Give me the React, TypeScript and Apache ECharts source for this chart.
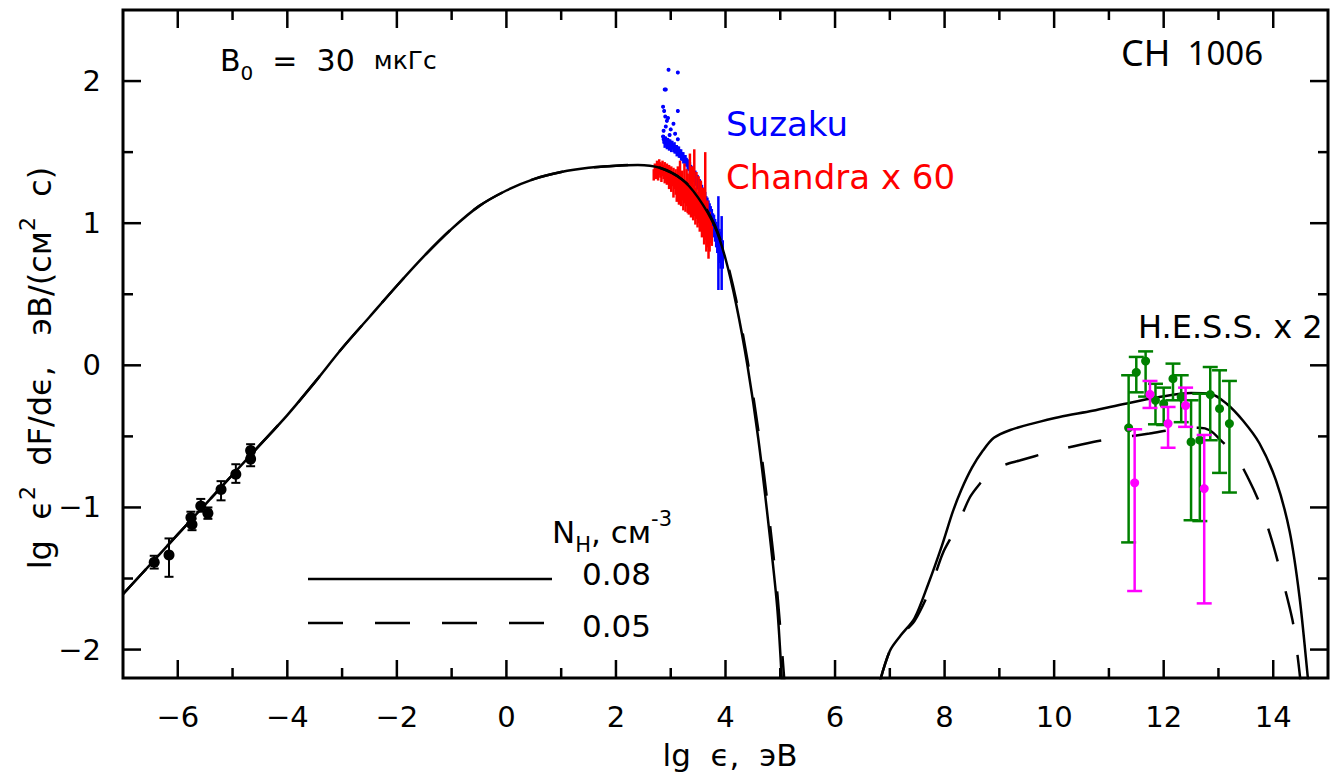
import React, { useEffect, useRef } from "react";
import * as echarts from "echarts";

// ---------- axis extents & ticks ----------
const X_MIN = -7;
const X_MAX = 15;
const Y_MIN = -2.2;
const Y_MAX = 2.5;
const xMajorTicks = [-6, -4, -2, 0, 2, 4, 6, 8, 10, 12, 14];
const xMinorTicks = [-5, -3, -1, 1, 3, 5, 7, 9, 11, 13];
const yMajorTicks = [-2, -1, 0, 1, 2];
const yMinorTicks = [-1.5, -0.5, 0.5, 1.5];

// ---------- model curves ----------
// synchrotron, N_H = 0.08 (solid)
const synchSolidX = [-7, -6.5, -6, -5.5, -5, -4.5, -4, -3.5, -3, -2.5, -2, -1.5, -1, -0.5, 0, 0.5, 1, 1.5, 2, 2.4, 2.8, 3.2, 3.5, 3.8, 4.0, 4.2, 4.4, 4.6, 4.8, 4.95, 5.06];
const synchSolidY = [-1.61, -1.4, -1.19, -0.98, -0.77, -0.56, -0.35, -0.12, 0.12, 0.34, 0.56, 0.77, 0.96, 1.12, 1.23, 1.31, 1.36, 1.39, 1.405, 1.41, 1.39, 1.31, 1.18, 0.98, 0.75, 0.42, 0.0, -0.52, -1.17, -1.73, -2.45];
// synchrotron, N_H = 0.05 (dashed)
const synchDashX = [-7, -6.5, -6, -5.5, -5, -4.5, -4, -3.5, -3, -2.5, -2, -1.5, -1, -0.5, 0, 0.5, 1, 1.5, 2, 2.4, 2.8, 3.2, 3.5, 3.8, 4.0, 4.2, 4.4, 4.6, 4.8, 4.95, 5.12];
const synchDashY = [-1.61, -1.4, -1.19, -0.98, -0.77, -0.56, -0.35, -0.12, 0.12, 0.34, 0.56, 0.77, 0.96, 1.12, 1.23, 1.31, 1.36, 1.39, 1.405, 1.41, 1.39, 1.31, 1.19, 0.99, 0.77, 0.45, 0.04, -0.46, -1.08, -1.62, -2.45];
// inverse Compton, N_H = 0.08 (solid)
const icSolidX = [6.8, 7.0, 7.2, 7.45, 7.7, 7.95, 8.15, 8.3, 8.5, 8.7, 8.9, 9.2, 9.6, 10.1, 10.7, 11.3, 11.9, 12.5, 12.85, 13.15, 13.45, 13.75, 14.05, 14.3, 14.48, 14.63, 14.68];
const icSolidY = [-2.25, -2.01, -1.9, -1.78, -1.54, -1.27, -1.03, -0.88, -0.72, -0.6, -0.51, -0.455, -0.41, -0.363, -0.32, -0.27, -0.225, -0.195, -0.2, -0.27, -0.39, -0.55, -0.81, -1.17, -1.63, -2.19, -2.4];
// inverse Compton, N_H = 0.05 (dashed)
const icDashX = [6.8, 7.0, 7.2, 7.45, 7.73, 7.97, 8.22, 8.46, 8.65, 8.82, 9.1, 9.37, 9.92, 10.71, 11.2, 11.74, 12.29, 12.65, 12.84, 13.05, 13.32, 13.55, 13.75, 13.95, 14.11, 14.35, 14.44, 14.52];
const icDashY = [-2.25, -2.01, -1.9, -1.8, -1.58, -1.32, -1.14, -0.93, -0.83, -0.76, -0.7, -0.67, -0.61, -0.54, -0.51, -0.48, -0.445, -0.44, -0.457, -0.53, -0.64, -0.8, -0.97, -1.2, -1.42, -1.79, -2.03, -2.3];

// ---------- radio data (black) ----------
const radioX = [-6.43, -6.16, -5.76, -5.74, -5.58, -5.45, -5.21, -4.94, -4.67, -4.67];
const radioY = [-1.385, -1.335, -1.07, -1.12, -0.99, -1.04, -0.873, -0.766, -0.6, -0.66];
const radioLo = [-1.43, -1.488, -1.11, -1.16, -1.03, -1.08, -0.95, -0.827, -0.64, -0.71];
const radioHi = [-1.34, -1.218, -1.03, -1.08, -0.94, -1.0, -0.815, -0.696, -0.555, -0.62];

// ---------- Chandra x 60 (red) ----------
const chandraX = [2.69, 2.71, 2.73, 2.75, 2.77, 2.79, 2.81, 2.83, 2.85, 2.87, 2.89, 2.91, 2.93, 2.95, 2.97, 2.99, 3.01, 3.03, 3.05, 3.07, 3.09, 3.11, 3.13, 3.15, 3.17, 3.19, 3.21, 3.23, 3.25, 3.27, 3.29, 3.31, 3.33, 3.35, 3.37, 3.39, 3.41, 3.43, 3.45, 3.47, 3.49, 3.51, 3.53, 3.55, 3.57, 3.59, 3.61, 3.63, 3.65, 3.67, 3.69, 3.71, 3.73, 3.75];
const chandraLo = [1.3, 1.32, 1.31, 1.33, 1.3, 1.34, 1.32, 1.29, 1.33, 1.31, 1.28, 1.3, 1.27, 1.29, 1.24, 1.28, 1.22, 1.26, 1.18, 1.24, 1.2, 1.15, 1.21, 1.13, 1.18, 1.12, 1.16, 1.09, 1.14, 1.08, 1.12, 1.07, 1.06, 1.1, 1.04, 1.08, 1.02, 1.05, 0.99, 1.03, 0.97, 1.0, 0.94, 0.98, 0.9, 0.93, 0.85, 0.88, 0.8, 0.83, 0.75, 0.8, 0.86, 0.84];
const chandraHi = [1.38, 1.42, 1.4, 1.44, 1.41, 1.45, 1.43, 1.42, 1.44, 1.41, 1.43, 1.4, 1.42, 1.39, 1.41, 1.38, 1.4, 1.37, 1.39, 1.36, 1.38, 1.35, 1.4, 1.34, 1.44, 1.33, 1.37, 1.31, 1.42, 1.3, 1.38, 1.35, 1.28, 1.49, 1.3, 1.4, 1.27, 1.52, 1.25, 1.36, 1.22, 1.33, 1.2, 1.3, 1.17, 1.25, 1.14, 1.5, 1.1, 1.16, 1.05, 1.08, 1.02, 0.98];

// ---------- Suzaku (blue) ----------
const suzakuX = [2.96, 3.13, 2.89, 2.91, 2.86, 2.88, 3.13, 2.9, 2.93, 2.95, 3.05, 2.87, 2.91, 3.0, 3.13, 2.98, 3.08, 2.86,
  2.87, 2.89, 2.91, 2.93, 2.95, 2.97, 2.99, 3.01, 3.03, 3.05, 3.07, 3.09, 3.11, 3.13, 3.15, 3.17, 3.19, 3.21, 3.23, 3.25, 3.27, 3.29, 3.31, 3.33, 3.35, 3.37, 3.39, 3.41, 3.43, 3.45, 3.47, 3.49, 3.51, 3.53, 3.55, 3.57, 3.59, 3.61, 3.63, 3.65, 3.67, 3.69, 3.71, 3.73, 3.75, 3.77, 3.79, 3.81, 3.83, 3.85, 3.87, 3.89, 3.91, 3.93, 3.95];
const suzakuY = [2.08, 2.06, 1.94, 1.94, 1.82, 1.79, 1.79, 1.75, 1.72, 1.74, 1.7, 1.65, 1.68, 1.66, 1.59, 1.62, 1.63, 1.61,
  1.59, 1.57, 1.58, 1.56, 1.57, 1.55, 1.56, 1.54, 1.55, 1.53, 1.53, 1.52, 1.51, 1.51, 1.5, 1.49, 1.48, 1.47, 1.46, 1.45, 1.44, 1.43, 1.41, 1.4, 1.39, 1.37, 1.36, 1.35, 1.33, 1.32, 1.3, 1.29, 1.27, 1.26, 1.24, 1.22, 1.2, 1.18, 1.16, 1.14, 1.12, 1.1, 1.08, 1.05, 1.03, 1.0, 0.98, 0.95, 0.92, 0.89, 0.86, 0.84, 0.81, 0.79, 0.78];
const suzakuErr = [0.01, 0.01, 0.01, 0.01, 0.01, 0.01, 0.01, 0.01, 0.01, 0.01, 0.01, 0.01, 0.01, 0.01, 0.01, 0.01, 0.01, 0.01,
  0.03, 0.04, 0.03, 0.04, 0.03, 0.04, 0.03, 0.04, 0.03, 0.03, 0.04, 0.03, 0.04, 0.03, 0.04, 0.03, 0.04, 0.03, 0.04, 0.03, 0.04, 0.03, 0.04, 0.03, 0.04, 0.04, 0.04, 0.04, 0.04, 0.05, 0.04, 0.05, 0.04, 0.05, 0.05, 0.05, 0.05, 0.05, 0.06, 0.05, 0.06, 0.06, 0.06, 0.07, 0.07, 0.07, 0.08, 0.08, 0.09, 0.1, 0.33, 0.12, 0.13, 0.26, 0.1];

// ---------- H.E.S.S. x 2 ----------
const hessGreenX = [11.36, 11.5, 11.67, 11.85, 12.0, 12.17, 12.32, 12.5, 12.66, 12.85, 13.02, 13.2];
const hessGreenY = [-0.44, -0.049, 0.03, -0.246, -0.27, -0.094, -0.223, -0.539, -0.527, -0.206, -0.305, -0.41];
const hessGreenLo = [-1.246, -0.19, -0.22, -0.415, -0.42, -0.246, -0.4, -1.09, -1.096, -0.527, -0.757, -0.895];
const hessGreenHi = [-0.07, 0.059, 0.098, -0.13, -0.157, 0.012, -0.07, -0.246, -0.2, -0.012, -0.035, -0.11];
const hessMagX = [11.47, 11.75, 12.08, 12.4, 12.74];
const hessMagY = [-0.827, -0.204, -0.41, -0.283, -0.867];
const hessMagLo = [-1.588, -0.3, -0.58, -0.433, -1.675];
const hessMagHi = [-0.45, -0.11, -0.293, -0.157, -0.49];

const FONT = "DejaVu Sans";

const zip = (...arrs: number[][]) => arrs[0].map((_, i) => arrs.map((a) => a[i]));

function makeErrRender(color: string, cap: number, r: number, lw: number) {
  return (params: any, api: any) => {
    const x = api.value(0);
    const y = api.value(1);
    const lo = api.value(2);
    const hi = api.value(3);
    const pc = api.coord([x, y]);
    const pl = api.coord([x, lo]);
    const ph = api.coord([x, hi]);
    const children: any[] = [
      { type: "line", shape: { x1: pl[0], y1: pl[1], x2: ph[0], y2: ph[1] }, style: { stroke: color, lineWidth: lw } },
    ];
    if (cap > 0) {
      children.push({ type: "line", shape: { x1: pl[0] - cap, y1: pl[1], x2: pl[0] + cap, y2: pl[1] }, style: { stroke: color, lineWidth: lw } });
      children.push({ type: "line", shape: { x1: ph[0] - cap, y1: ph[1], x2: ph[0] + cap, y2: ph[1] }, style: { stroke: color, lineWidth: lw } });
    }
    if (r > 0) {
      children.push({ type: "circle", shape: { cx: pc[0], cy: pc[1], r }, style: { fill: color } });
    }
    return { type: "group", children };
  };
}

function tickRender(params: any, api: any) {
  const v = api.value(0);
  const side = api.value(1);
  const len = api.value(2);
  let p: number[];
  let q: number[];
  if (side === 0) {
    p = api.coord([v, Y_MIN]);
    q = [p[0], p[1] - len];
  } else if (side === 1) {
    p = api.coord([v, Y_MAX]);
    q = [p[0], p[1] + len];
  } else if (side === 2) {
    p = api.coord([X_MIN, v]);
    q = [p[0] + len, p[1]];
  } else {
    p = api.coord([X_MAX, v]);
    q = [p[0] - len, p[1]];
  }
  return { type: "line", shape: { x1: p[0], y1: p[1], x2: q[0], y2: q[1] }, style: { stroke: "#000", lineWidth: 2.5 } };
}

const richStyles = (size: number, smScale = 0.85) => ({
  a: { fontSize: size, fontFamily: FONT, lineHeight: Math.round(size * 1.5), fill: "#000" },
  sup: { fontSize: Math.round(size * 0.68), fontFamily: FONT, lineHeight: Math.round(size * 0.68), verticalAlign: "top", fill: "#000" },
  sub: { fontSize: Math.round(size * 0.68), fontFamily: FONT, lineHeight: Math.round(size * 0.68), verticalAlign: "bottom", fill: "#000" },
  sm: { fontSize: Math.round(size * smScale), fontFamily: FONT, lineHeight: Math.round(size * 1.5), fill: "#000" },
});

const fmtNum = (v: number) => (v < 0 ? "\u2212" + String(Math.abs(v)) : String(v));

export default function App() {
  const ref = useRef<HTMLDivElement>(null);
  useEffect(() => {
    if (!ref.current) return;
    const chart = echarts.init(ref.current, undefined, { renderer: "svg" });

    const tickData: number[][] = [];
    xMajorTicks.forEach((v) => { tickData.push([v, 0, 18]); tickData.push([v, 1, 18]); });
    xMinorTicks.forEach((v) => { tickData.push([v, 0, 10]); tickData.push([v, 1, 10]); });
    yMajorTicks.forEach((v) => { tickData.push([v, 2, 18]); tickData.push([v, 3, 18]); });
    yMinorTicks.forEach((v) => { tickData.push([v, 2, 10]); tickData.push([v, 3, 10]); });

    const dashed = [34, 31];
    const SMOOTH = 0.3;

    const option: any = {
      animation: false,
      backgroundColor: "#fff",
      grid: { left: 123, right: 15, top: 10, bottom: 100, show: true, borderColor: "#000", borderWidth: 3, backgroundColor: "transparent" },
      xAxis: {
        type: "value", min: X_MIN, max: X_MAX, interval: 1,
        axisLine: { show: false }, axisTick: { show: false }, splitLine: { show: false },
        axisLabel: {
          fontFamily: FONT, fontSize: 29, color: "#000", margin: 24,
          formatter: (v: number) => (Math.abs(v % 2) < 1e-9 ? fmtNum(v) : ""),
        },
      },
      yAxis: {
        type: "value", min: Y_MIN, max: Y_MAX, interval: 0.1,
        axisLine: { show: false }, axisTick: { show: false }, splitLine: { show: false },
        axisLabel: {
          fontFamily: FONT, fontSize: 29, color: "#000", margin: 22,
          formatter: (v: number) => (Math.abs(v - Math.round(v)) < 1e-6 ? fmtNum(Math.round(v)) : ""),
        },
      },
      series: [
        { type: "custom", name: "ticks", renderItem: tickRender, data: tickData, silent: true, z: 1 },
        { type: "custom", name: "Suzaku", renderItem: makeErrRender("#0000ff", 0, 2, 2.5), data: zip(suzakuX, suzakuY, suzakuY.map((y, i) => y - suzakuErr[i]), suzakuY.map((y, i) => y + suzakuErr[i])), z: 2 },
        { type: "custom", name: "Chandra x 60", renderItem: makeErrRender("#ff0000", 0, 0, 2.5), data: zip(chandraX, chandraX.map((_, i) => (chandraLo[i] + chandraHi[i]) / 2), chandraLo, chandraHi), z: 3 },
        { type: "line", name: "synch 0.05", data: zip(synchDashX, synchDashY), showSymbol: false, smooth: SMOOTH, lineStyle: { color: "#000", width: 2.5, type: dashed }, z: 4 },
        { type: "line", name: "synch 0.08", data: zip(synchSolidX, synchSolidY), showSymbol: false, smooth: SMOOTH, lineStyle: { color: "#000", width: 2.5 }, z: 5 },
        { type: "line", name: "IC 0.05", data: zip(icDashX, icDashY), showSymbol: false, smooth: SMOOTH, lineStyle: { color: "#000", width: 2.5, type: dashed }, z: 4 },
        { type: "line", name: "IC 0.08", data: zip(icSolidX, icSolidY), showSymbol: false, smooth: SMOOTH, lineStyle: { color: "#000", width: 2.5 }, z: 5 },
        { type: "custom", name: "radio", renderItem: makeErrRender("#000", 4.5, 5.5, 2), data: zip(radioX, radioY, radioLo, radioHi), z: 6 },
        { type: "custom", name: "HESS green", renderItem: makeErrRender("#008000", 7.5, 4.5, 2.5), data: zip(hessGreenX, hessGreenY, hessGreenLo, hessGreenHi), z: 6 },
        { type: "custom", name: "HESS magenta", renderItem: makeErrRender("#ff00ff", 7.5, 4.5, 2.5), data: zip(hessMagX, hessMagY, hessMagLo, hessMagHi), z: 7 },
      ],
      graphic: [
        { type: "text", x: 220, y: 60, style: { text: "{a|B}{sub|0}{a|  =  30  }{sm|мкГс}", rich: richStyles(30, 0.82), verticalAlign: "middle", align: "left" } },
        { type: "text", x: 1121, y: 52, style: { text: "{a|CH}{b|  1006}", rich: { a: { fontSize: 36, fontFamily: "Noto Sans", fill: "#000" }, b: { fontSize: 33, fontFamily: "Noto Sans", fill: "#000" } }, verticalAlign: "middle", align: "left" } },
        { type: "text", x: 726, y: 124, style: { text: "Suzaku", fill: "#0000ff", font: `34px "${FONT}"`, verticalAlign: "middle", align: "left" } },
        { type: "text", x: 726, y: 177, style: { text: "Chandra x 60", fill: "#ff0000", font: `34px "${FONT}"`, verticalAlign: "middle", align: "left" } },
        { type: "text", x: 1138, y: 327, style: { text: "H.E.S.S. x 2", fill: "#000", font: `32px "${FONT}"`, verticalAlign: "middle", align: "left" } },
        { type: "text", x: 552, y: 532, style: { text: "{a|N}{sub|H}{a|, см}{sup|-3}", rich: richStyles(31), verticalAlign: "middle", align: "left" } },
        { type: "text", x: 582, y: 574, style: { text: "0.08", fill: "#000", font: `31px "${FONT}"`, verticalAlign: "middle", align: "left" } },
        { type: "text", x: 582, y: 626, style: { text: "0.05", fill: "#000", font: `31px "${FONT}"`, verticalAlign: "middle", align: "left" } },
        { type: "line", shape: { x1: 308, y1: 579, x2: 552, y2: 579 }, style: { stroke: "#000", lineWidth: 2.5 } },
        { type: "line", shape: { x1: 308, y1: 623, x2: 545, y2: 623 }, style: { stroke: "#000", lineWidth: 2.5, lineDash: [35, 32] } },
        { type: "text", x: 730, y: 755, style: { text: "lg  ϵ,  эВ", fill: "#000", font: `31px "${FONT}"`, verticalAlign: "middle", align: "center" } },
        { type: "text", x: 40, y: 368, rotation: Math.PI / 2, style: { text: "{a|lg  ϵ}{sup|2}{a|  dF/dϵ,   эВ/(см}{sup|2}{a|  с)}", rich: richStyles(32), verticalAlign: "middle", align: "center" } },
      ],
    };
    chart.setOption(option);
    return () => chart.dispose();
  }, []);
  return <div ref={ref} style={{ position: "absolute", left: 0, top: 0, width: 1343, height: 778 }} />;
}
